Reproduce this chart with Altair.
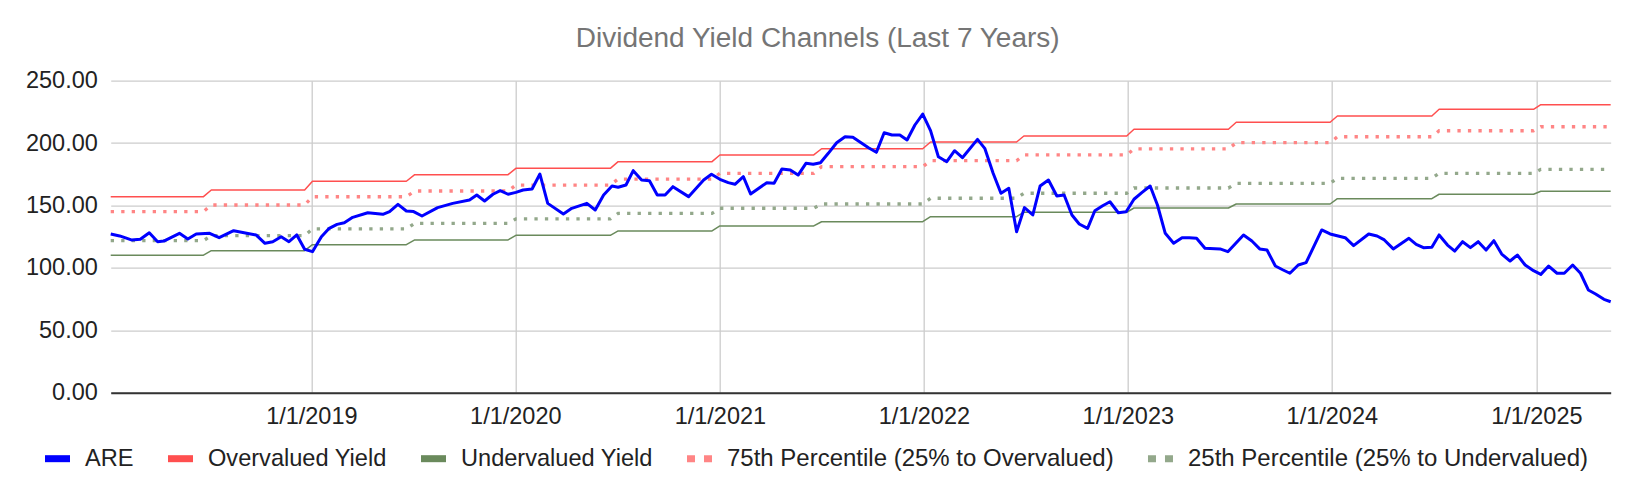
import altair as alt
import pandas as pd

FONT = "Liberation Sans"

are_dates = [
    "2018-01-07", "2018-01-23", "2018-02-13", "2018-03-01", "2018-03-17", "2018-04-01", "2018-04-12",
    "2018-05-10", "2018-05-25", "2018-06-09", "2018-07-03", "2018-07-20", "2018-08-15", "2018-09-24",
    "2018-10-10", "2018-10-24", "2018-11-08", "2018-11-22", "2018-12-06", "2018-12-20", "2019-01-03",
    "2019-01-19", "2019-02-02", "2019-02-16", "2019-03-01", "2019-03-16", "2019-04-12", "2019-05-09",
    "2019-05-21", "2019-06-05", "2019-06-20", "2019-07-03", "2019-07-18", "2019-08-15", "2019-09-11",
    "2019-10-11", "2019-10-24", "2019-11-07", "2019-11-22", "2019-12-05", "2019-12-19", "2020-01-02",
    "2020-01-15", "2020-01-31", "2020-02-14", "2020-02-28", "2020-03-27", "2020-04-11", "2020-05-08",
    "2020-05-23", "2020-06-07", "2020-06-22", "2020-07-03", "2020-07-17", "2020-07-30", "2020-08-14",
    "2020-08-28", "2020-09-11", "2020-09-25", "2020-10-09", "2020-11-06", "2020-12-03", "2020-12-17",
    "2021-01-01", "2021-01-16", "2021-01-28", "2021-02-12", "2021-02-25", "2021-03-26", "2021-04-08",
    "2021-04-22", "2021-05-07", "2021-05-21", "2021-06-04", "2021-06-17", "2021-06-30", "2021-07-14",
    "2021-07-29", "2021-08-13", "2021-08-27", "2021-09-24", "2021-10-08", "2021-10-22", "2021-11-05",
    "2021-11-19", "2021-12-02", "2021-12-16", "2021-12-30", "2022-01-13", "2022-01-27", "2022-02-11",
    "2022-02-25", "2022-03-11", "2022-04-07", "2022-04-20", "2022-05-05", "2022-05-19", "2022-06-02",
    "2022-06-16", "2022-06-30", "2022-07-15", "2022-07-28", "2022-08-12", "2022-08-27", "2022-09-09",
    "2022-09-23", "2022-10-06", "2022-10-21", "2022-11-03", "2022-11-17", "2022-11-30", "2022-12-15",
    "2022-12-29", "2023-01-12", "2023-01-26", "2023-02-10", "2023-02-23", "2023-03-09", "2023-03-24",
    "2023-04-08", "2023-04-21", "2023-05-04", "2023-05-19", "2023-06-15", "2023-06-29", "2023-07-27",
    "2023-08-11", "2023-08-25", "2023-09-07", "2023-09-22", "2023-10-05", "2023-10-18", "2023-11-02",
    "2023-11-16", "2023-12-14", "2023-12-29", "2024-01-25", "2024-02-09", "2024-03-07", "2024-03-22",
    "2024-04-04", "2024-04-20", "2024-05-18", "2024-05-31", "2024-06-13", "2024-06-28", "2024-07-11",
    "2024-07-26", "2024-08-08", "2024-08-22", "2024-09-05", "2024-09-19", "2024-10-03", "2024-10-17",
    "2024-10-31", "2024-11-15", "2024-11-28", "2024-12-12", "2024-12-27", "2025-01-09", "2025-01-23",
    "2025-02-07", "2025-02-20", "2025-03-07", "2025-03-21", "2025-04-04", "2025-04-17", "2025-05-02",
    "2025-05-14",
]
are_values = [
    127.2, 125.6, 122.4, 122.9, 128.2, 121.0, 121.5,
    127.7, 123.2, 127.2, 127.7, 124.2, 129.8, 126.4,
    119.7, 121.0, 125.0, 121.0, 126.4, 114.9, 113.0,
    125.0, 131.7, 134.9, 136.2, 140.5, 144.2, 142.9,
    145.1, 150.9, 145.6, 145.1, 141.6, 148.3, 151.7,
    154.4, 158.4, 153.6, 159.0, 161.9, 159.0, 160.5,
    162.4, 163.2, 175.2, 151.7, 143.2, 147.7, 151.7,
    146.4, 158.4, 165.6, 164.6, 166.4, 177.9, 170.4,
    169.9, 158.4, 158.4, 165.1, 157.1, 170.4, 175.0,
    171.0, 168.3, 167.0, 173.1, 159.2, 168.3, 167.8,
    179.2, 178.4, 174.4, 183.8, 183.0, 184.3, 191.8,
    200.3, 205.1, 204.6, 196.3, 192.6, 208.3, 206.5,
    206.5, 202.5, 214.5, 223.3, 210.0, 189.1, 185.1,
    193.9, 188.3, 203.0, 195.8, 175.8, 159.8, 163.8,
    129.0, 148.3, 142.4, 165.6, 170.4, 157.6, 158.4,
    142.4, 135.2, 131.7, 145.8, 149.8, 153.0, 144.2,
    145.0, 155.0, 160.3, 165.6, 150.4, 127.7, 119.7,
    124.2, 124.2, 123.7, 115.7, 115.2, 113.0, 126.4,
    121.5, 115.2, 114.3, 101.5, 98.5, 95.7, 102.3,
    104.2, 130.4, 127.2, 124.2, 117.8, 127.2, 125.6,
    122.4, 115.2, 123.7, 118.9, 116.2, 116.5, 126.4,
    118.3, 113.5, 121.0, 116.2, 121.0, 114.3, 121.8,
    111.1, 105.5, 110.3, 102.3, 97.8, 94.8, 101.5,
    95.7, 95.7, 102.3, 95.7, 82.3, 79.1, 74.8,
    72.9,
]

# channel levels: each level holds from seg_start to seg_end, ramps in between
seg_start = [
    "2018-01-07", "2018-07-06", "2019-01-03", "2019-07-05", "2020-01-02", "2020-07-03", "2021-01-01",
    "2021-07-02", "2022-01-13", "2022-06-29", "2023-01-12", "2023-07-14", "2024-01-11", "2024-07-11",
    "2025-01-09",
]
seg_end = [
    "2018-06-22", "2018-12-20", "2019-06-20", "2019-12-19", "2020-06-19", "2020-12-18", "2021-06-18",
    "2021-12-30", "2022-06-16", "2022-12-30", "2023-06-30", "2023-12-29", "2024-06-28", "2024-12-27",
    "2025-05-14",
]
overvalued = [157.1, 162.4, 169.4, 174.7, 179.8, 185.1, 190.5, 195.5, 200.9, 205.7, 211.1, 216.7, 221.7, 227.1, 230.8]
undervalued = [110.2, 113.8, 118.6, 122.4, 126.1, 129.6, 133.6, 137.0, 141.0, 144.6, 148.0, 151.2, 155.5, 159.0, 161.4]
pct75 = [145.1, 150.4, 157.0, 161.6, 166.4, 171.2, 175.8, 181.1, 185.9, 190.5, 195.3, 200.3, 205.1, 209.9, 213.1]
pct25 = [121.8, 125.8, 131.2, 135.7, 139.2, 143.7, 147.8, 151.2, 155.8, 159.8, 164.0, 167.8, 171.8, 175.8, 179.0]

solid_names = ["ARE", "Overvalued Yield", "Undervalued Yield"]
solid_colors = ["#0000ff", "#ff4f4f", "#6a8a5c"]
dotted_names = ["75th Percentile (25% to Overvalued)", "25th Percentile (25% to Undervalued)"]
dotted_colors = ["#ff8585", "#93a88b"]


def level_rows(name, levels):
    out = []
    for s, e, v in zip(seg_start, seg_end, levels):
        out.append({"date": s + "T00:00:00", "series": name, "value": v})
        out.append({"date": e + "T00:00:00", "series": name, "value": v})
    return out


solid_df = pd.DataFrame(level_rows(solid_names[1], overvalued) + level_rows(solid_names[2], undervalued))
dotted_df = pd.DataFrame(level_rows(dotted_names[0], pct75) + level_rows(dotted_names[1], pct25))
are_df = pd.DataFrame({"date": [d + "T00:00:00" for d in are_dates], "series": "ARE", "value": are_values})

year_ticks = [alt.DateTime(year=y, month=1, date=1) for y in range(2019, 2026)]

x_enc = alt.X(
    "date:T",
    scale=alt.Scale(nice=False),
    axis=alt.Axis(
        title=None,
        values=year_ticks,
        format="%-m/%-d/%Y",
        labelFont=FONT,
        labelFontSize=23.5,
        labelColor="#222222",
        labelPadding=12,
        ticks=False,
        tickSize=0,
        grid=True,
        gridColor="#cccccc",
        gridWidth=1.3,
        domainColor="#333333",
        domainWidth=2,
        labelFlush=False,
    ),
)
y_enc = alt.Y(
    "value:Q",
    scale=alt.Scale(domain=[0, 250], nice=False),
    axis=alt.Axis(
        title=None,
        values=[0, 50, 100, 150, 200, 250],
        format=".2f",
        labelFont=FONT,
        labelFontSize=23.5,
        labelColor="#222222",
        labelPadding=13.4,
        ticks=False,
        tickSize=0,
        domain=False,
        grid=True,
        gridColor="#cccccc",
        gridWidth=1.3,
    ),
)

common_legend = dict(
    title=None,
    orient="none",
    direction="horizontal",
    symbolType="stroke",
    symbolSize=625,
    symbolStrokeWidth=7,
    labelFont=FONT,
    labelColor="#222222",
    labelOffset=11.5,
    columnPadding=19,
    labelLimit=1000,
    padding=0,
)

color_enc = alt.Color(
    "series:N",
    scale=alt.Scale(domain=solid_names, range=solid_colors),
    sort=solid_names,
    legend=alt.Legend(legendX=-69.2, legendY=362, columns=3, labelFontSize=23.6, **common_legend),
)

dotted_scale = alt.Scale(domain=dotted_names, range=dotted_colors)

# legend carrier for the dotted series (draws nothing itself)
dotted_legend = (
    alt.Chart(dotted_df)
    .transform_filter("false")
    .mark_line(strokeCap="butt")
    .encode(
        x=x_enc,
        y=y_enc,
        stroke=alt.Stroke(
            "series:N",
            scale=dotted_scale,
            sort=dotted_names,
            legend=alt.Legend(
                legendX=572.8, legendY=362, columns=2, labelFontSize=24, symbolDash=[8, 9], **common_legend
            ),
        ),
    )
)

dotted = (
    alt.Chart(dotted_df)
    .mark_line(strokeWidth=3.3, strokeDash=[3.3, 7.2], strokeCap="butt")
    .encode(
        x=x_enc,
        y=y_enc,
        stroke=alt.Stroke("series:N", scale=dotted_scale, sort=dotted_names, legend=None),
    )
)

solid = (
    alt.Chart(solid_df)
    .mark_line(strokeWidth=1.5, strokeJoin="round")
    .encode(x=x_enc, y=y_enc, color=color_enc)
)

are = (
    alt.Chart(are_df)
    .mark_line(strokeWidth=3, strokeJoin="round")
    .encode(x=x_enc, y=y_enc, color=color_enc)
)

chart = (
    alt.layer(dotted_legend, dotted, solid, are)
    .properties(
        width=1500,
        height=312,
        padding={"left": 102.7, "top": 72.7, "right": 14, "bottom": 88},
        autosize=alt.AutoSizeParams(type="none"),
        title=alt.TitleParams(
            text="Dividend Yield Channels (Last 7 Years)",
            font=FONT,
            fontSize=28,
            fontWeight="normal",
            color="#757575",
            anchor="middle",
            frame="group",
            dx=-43,
            offset=16,
        ),
    )
    .configure_view(stroke=None)
)

chart.save("out.html", embed_options={"renderer": "svg", "actions": False})
